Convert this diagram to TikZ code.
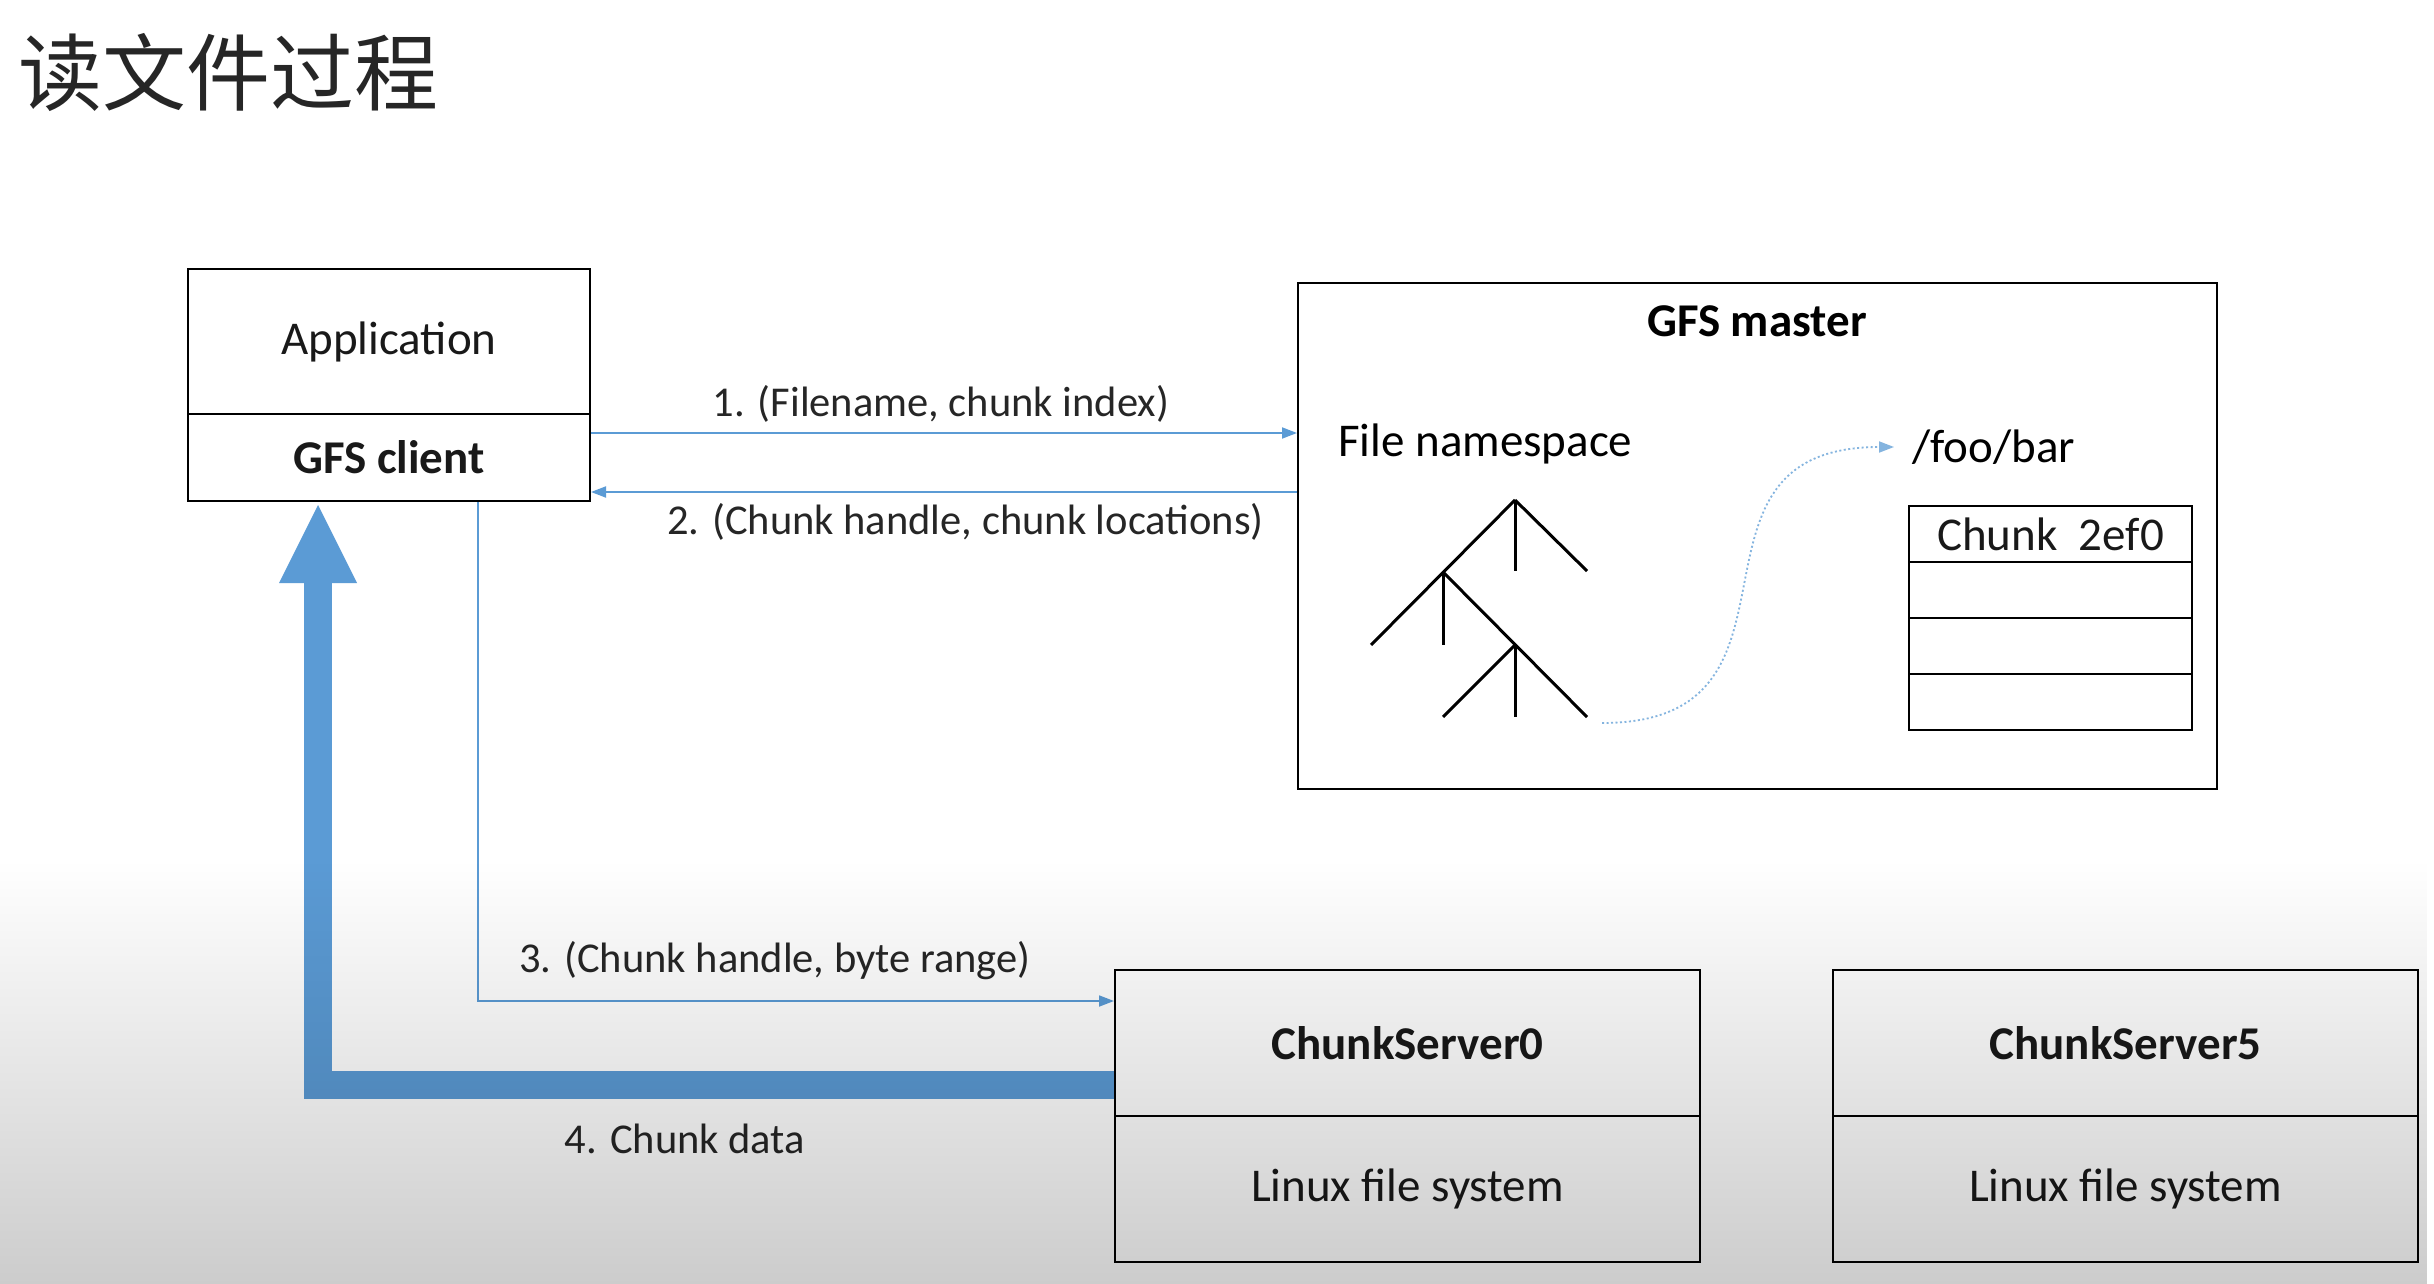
\documentclass[tikz,border=0pt]{standalone}
\usepackage{fontspec}
\setmainfont{Carlito}
\newfontfamily\cjk{Noto Sans CJK SC}
\usetikzlibrary{arrows.meta,fadings}
\definecolor{obl}{HTML}{5B9BD5}
\begin{document}
\begin{tikzpicture}[x=1pt,y=-1pt,
  big/.style={font=\fontsize{47}{56}\selectfont},
  bigb/.style={font=\bfseries\fontsize{47}{56}\selectfont},
  box/.style={draw=black, line width=2pt, inner sep=0pt, text=black!90},
  lbl/.style={inner sep=0pt, font=\fontsize{42.5}{50}\selectfont, text=black!85},
  thinarrow/.style={draw=obl, line width=1.8pt, -{Triangle[length=15pt,width=11pt]}},
  treeline/.style={line width=3pt, draw=black}]
\useasboundingbox (0,0) rectangle (2434,1284);
\fill[white] (0,0) rectangle (2434,1284);
% title
\node[anchor=west, inner sep=0pt, font=\cjk\fontsize{84}{90}\selectfont, text=black!85] (title) at (18,72) {读文件过程};
% client
\node[box, big, minimum width=402pt, minimum height=145pt] (app) at (389,341.5) {Application};
\node[box, bigb, minimum width=402pt, minimum height=87pt] (client) at (389,457.5) {GFS client};
% master
\node[box, minimum width=919pt, minimum height=506pt] (master) at (1757.5,536) {};
\node[bigb, inner sep=0pt] (mtitle) at (1757,321) {GFS master};
\node[big, anchor=west, inner sep=0pt] (ns) at (1338,444) {File namespace};
\node[big, anchor=west, inner sep=0pt] (foo) at (1912,447) {/foo/bar};
\node[box, big, minimum width=283pt, minimum height=56pt] (c0) at (2050.5,534) {Chunk\ \ 2ef0};
\node[box, minimum width=283pt, minimum height=56pt] (c1) at (2050.5,590) {};
\node[box, minimum width=283pt, minimum height=56pt] (c2) at (2050.5,646) {};
\node[box, minimum width=283pt, minimum height=56pt] (c3) at (2050.5,702) {};
% tree
\coordinate (t1) at (1515,500);
\coordinate (t2) at (1443,572);
\coordinate (t3) at (1515,645);
\coordinate (tend) at (1587,717);
\draw[treeline] (t1) -- (1371,645);
\draw[treeline] (t1) -- (1515,571);
\draw[treeline] (t1) -- (1587,571);
\draw[treeline] (t2) -- (1443,645);
\draw[treeline] (t2) -- (tend);
\draw[treeline] (t3) -- (1443,717);
\draw[treeline] (t3) -- (1515,717);
% dotted curve
\draw[draw=obl!75, line width=1.8pt, dash pattern=on 2pt off 2.5pt, -{Triangle[length=15pt,width=11pt]}]
  ([xshift=15pt,yshift=-6pt]tend) .. controls (1830,723) and (1660,447) .. ([xshift=-18pt]foo.west);
% chunkservers
\node[box, bigb, minimum width=585pt, minimum height=146pt] (cs0) at (1407.5,1043) {ChunkServer0};
\node[box, big, minimum width=585pt, minimum height=146pt] (fs0) at (1407.5,1189) {Linux file system};
\node[box, bigb, minimum width=585pt, minimum height=146pt] (cs5) at (2125.5,1043) {ChunkServer5};
\node[box, big, minimum width=585pt, minimum height=146pt] (fs5) at (2125.5,1189) {Linux file system};
% arrows
\draw[thinarrow] ([yshift=24.5pt]client.east) -- ([yshift=24.5pt]client.east -| master.west);
\draw[thinarrow] ([yshift=-34.5pt]client.east -| master.west) -- ([yshift=-34.5pt]client.east);
\node[lbl] (l1) at (941,404) {1. (Filename, chunk index)};
\node[lbl] (l2) at (965.5,522) {2. (Chunk handle, chunk locations)};
\draw[thinarrow] ([xshift=89pt]client.south) |- ([yshift=42pt]cs0.west);
\node[lbl] (l3) at (775,961) {3. (Chunk handle, byte range)};
\draw[draw=obl, line width=28pt, -{Triangle[length=78pt,width=78pt,line width=0pt]}]
  ([yshift=-42pt]cs0.west) -| ([xshift=-71pt,yshift=-3pt]client.south);
\node[lbl] (l4) at (685,1139) {4. Chunk data};
% video darkening
\fill[black, fill opacity=0.2, path fading=north] (0,860) rectangle (2434,1284);
\end{tikzpicture}
\end{document}
